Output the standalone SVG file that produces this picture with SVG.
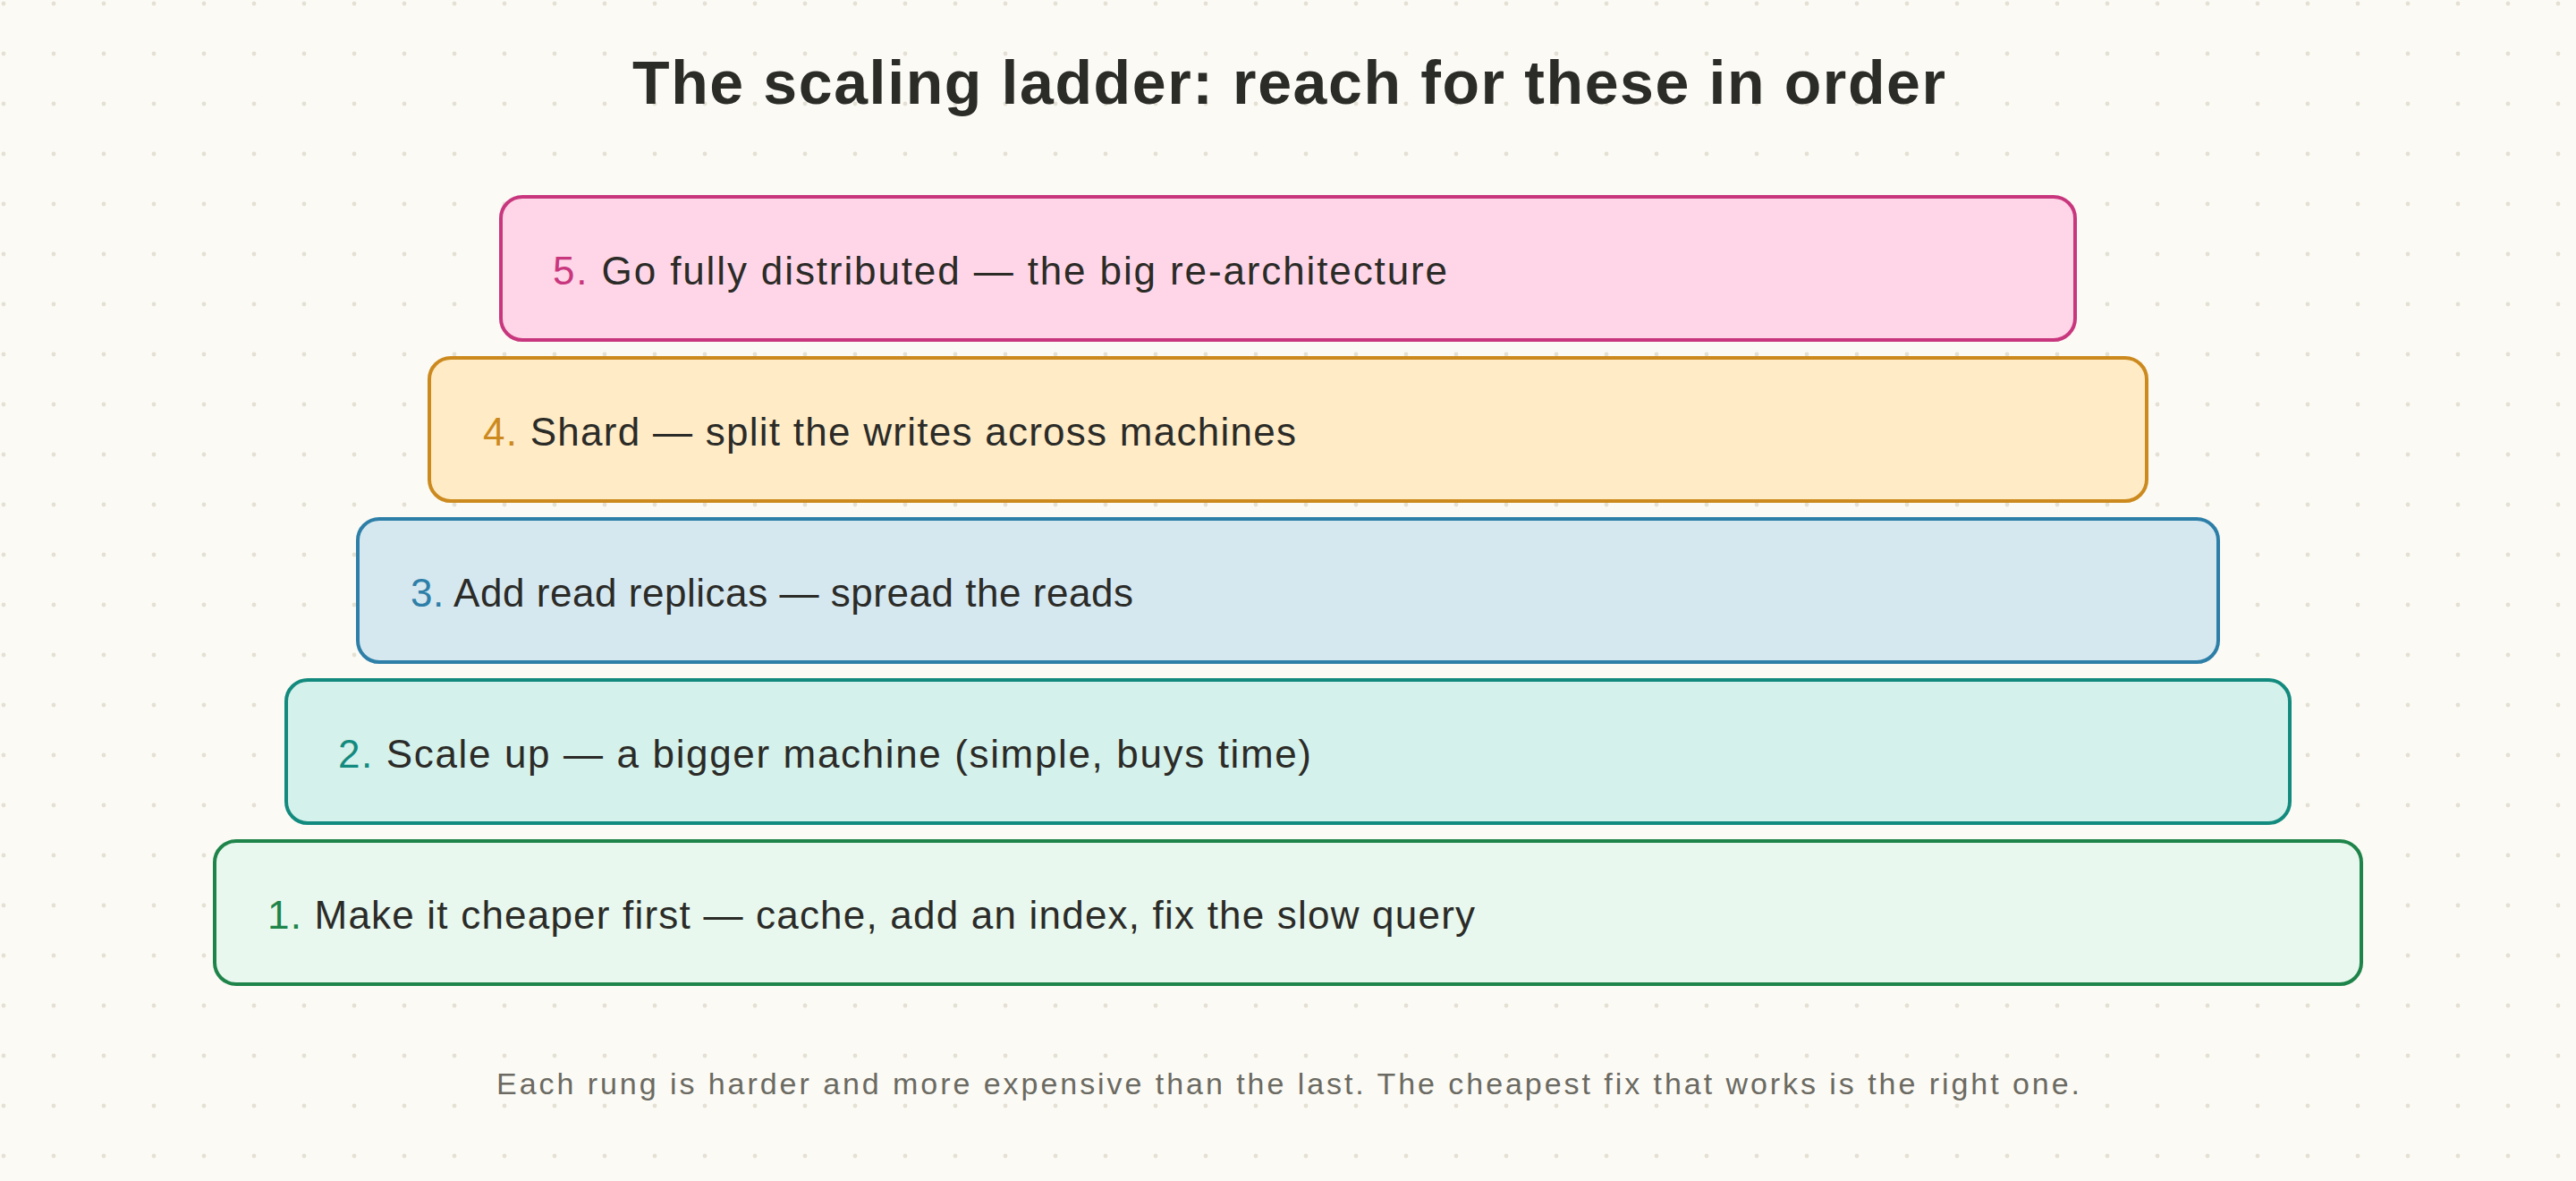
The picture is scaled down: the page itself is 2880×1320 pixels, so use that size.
<svg xmlns="http://www.w3.org/2000/svg" width="2880" height="1320" viewBox="0 0 2880 1320">
<style>
.lbl{font-family:"Liberation Sans","Noto Sans",sans-serif;font-size:44px;fill:#2b2b28}
.title{font-family:"Liberation Sans","Noto Sans",sans-serif;font-size:68px;font-weight:bold;fill:#2b2b28}
.foot{font-family:"Liberation Sans","Noto Sans",sans-serif;font-size:34px;fill:#6b6a62}
.box{stroke-width:4}
</style>
<defs>
<pattern id="dots" x="0" y="0" width="56" height="56" patternUnits="userSpaceOnUse">
<circle cx="4" cy="4" r="2.4" fill="#e4e0d3"/>
</pattern>
</defs>
<rect x="0" y="0" width="2880" height="1320" fill="#fbfaf5"/>
<rect x="0" y="0" width="2880" height="1320" fill="url(#dots)"/>
<text class="title" x="1441" y="116" text-anchor="middle" textLength="1468">The scaling ladder: reach for these in order</text>
<g id="connectors"></g>
<g id="rung5">
<rect class="box" x="560" y="220" width="1760" height="160" rx="24" fill="#ffd6e7" stroke="#c8377e"/>
<text class="lbl" x="618" y="318" textLength="1000"><tspan fill="#c8377e">5.</tspan> Go fully distributed — the big re-architecture</text>
</g>
<g id="rung4">
<rect class="box" x="480" y="400" width="1920" height="160" rx="24" fill="#ffebc6" stroke="#cc8a1e"/>
<text class="lbl" x="540" y="498" textLength="909"><tspan fill="#cc8a1e">4.</tspan> Shard — split the writes across machines</text>
</g>
<g id="rung3">
<rect class="box" x="400" y="580" width="2080" height="160" rx="24" fill="#d5e8f0" stroke="#2e7fa8"/>
<text class="lbl" x="459" y="678" textLength="808"><tspan fill="#2e7fa8">3.</tspan> Add read replicas — spread the reads</text>
</g>
<g id="rung2">
<rect class="box" x="320" y="760" width="2240" height="160" rx="24" fill="#d5f1eb" stroke="#138a7e"/>
<text class="lbl" x="378" y="858" textLength="1088"><tspan fill="#138a7e">2.</tspan> Scale up — a bigger machine (simple, buys time)</text>
</g>
<g id="rung1">
<rect class="box" x="240" y="940" width="2400" height="160" rx="24" fill="#e8f8ee" stroke="#1e8449"/>
<text class="lbl" x="299" y="1038" textLength="1350"><tspan fill="#1e8449">1.</tspan> Make it cheaper first — cache, add an index, fix the slow query</text>
</g>
<text class="foot" x="1440" y="1223" text-anchor="middle" textLength="1770">Each rung is harder and more expensive than the last. The cheapest fix that works is the right one.</text>
</svg>
